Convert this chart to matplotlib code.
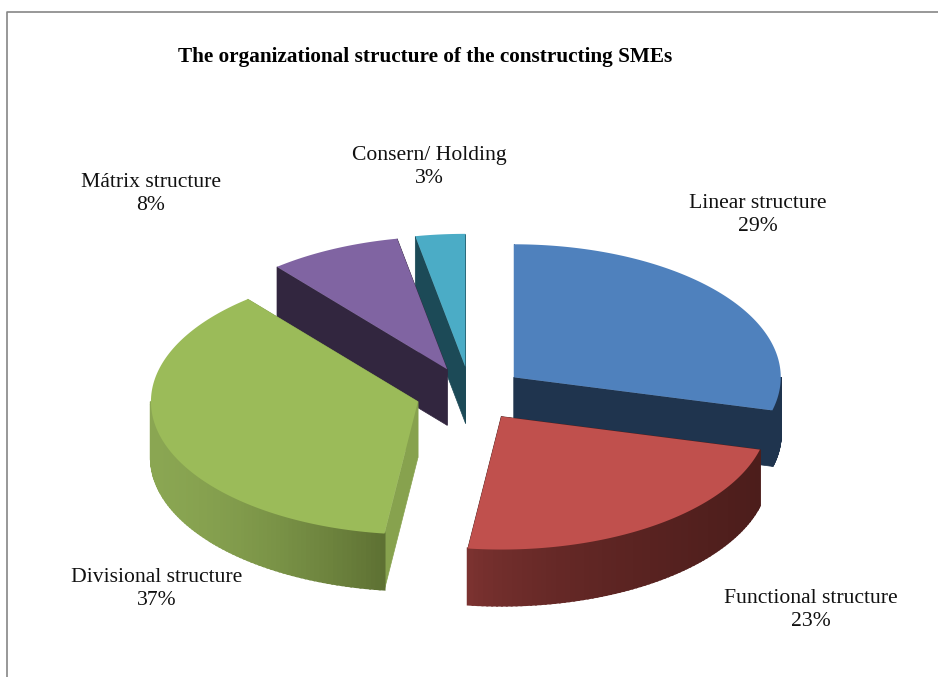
import numpy as np
import matplotlib
matplotlib.use('Agg')
import matplotlib.pyplot as plt
from matplotlib.colors import to_rgb

plt.rcParams['font.family'] = ['Liberation Serif', 'DejaVu Serif']

# Data
labels = ['Linear structure', 'Functional structure', 'Divisional structure', 'Mátrix structure', 'Consern/ Holding']
values = [29, 23, 37, 8, 3]
title = 'The organizational structure of the constructing SMEs'

# Look of each slice, same order as the data
top_colors = ['#4f81bd', '#c0504d', '#9bbb59', '#8064a2', '#4bacc6']
cut_colors = ['#1f344e', '#4c1d1b', '#87a24e', '#32263f', '#1c4a57']
rim_left = ['#1f344e', '#7f3432', '#8aa652', '#32263f', '#1c4a57']
rim_right = ['#1f344e', '#4c1d1b', '#5e7133', '#32263f', '#1c4a57']
rim_gamma = [1, 0.6, 1.6, 1, 1]
label_x = [758, 811, 157, 151, 429]
label_y = [215, 610, 589, 194, 167]

# Pie geometry in pixels
cx, cy = 470.5, 394
rx, ry = 267, 133
depth = 56
explode = 0.205
draw_order = [4, 3, 0, 2, 1]


def point(angle, ox, oy, r=1.0):
    # angle is clockwise from north, in degrees
    a = np.radians(angle)
    return ox + r * rx * np.sin(a), oy - r * ry * np.cos(a)


fig = plt.figure(figsize=(9.38, 6.77), dpi=100)
ax = fig.add_axes([0, 0, 1, 1])
ax.set_xlim(0, 938)
ax.set_ylim(677, 0)
ax.axis('off')

# Chart frame, runs off the picture on the right and at the bottom
ax.plot([6.5, 6.5, 938], [677, 11.5, 11.5], color='#868686', lw=1.2)

edges = np.cumsum([0] + values) * 3.6

for i in draw_order:
    start, end = edges[i], edges[i + 1]
    mid = (start + end) / 2
    ox, oy = point(mid, cx, cy, explode)
    arc = np.linspace(start, end, 120)
    ax_x, ax_y = point(arc, ox, oy)
    level = draw_order.index(i) * 3

    # Cut faces
    for edge in (start, end):
        ex, ey = point(edge, ox, oy)
        ax.fill([ox, ex, ex, ox], [oy, ey, ey + depth, oy + depth],
                color=cut_colors[i], lw=0.5, zorder=level + 1)

    # Outer wall, only the part facing the viewer, shaded in thin strips
    lo, hi = max(start, 90), min(end, 270)
    if lo < hi:
        steps = np.linspace(lo, hi, 80)
        left = np.array(to_rgb(rim_left[i]))
        right = np.array(to_rgb(rim_right[i]))
        xs, ys = point(steps, ox, oy)
        x_min, x_max = xs.min(), xs.max()
        for k in range(len(steps) - 1):
            t = ((xs[k] - x_min) / max(x_max - x_min, 1)) ** rim_gamma[i]
            c = left + (right - left) * t
            ax.fill([xs[k], xs[k + 1], xs[k + 1], xs[k]],
                    [ys[k], ys[k + 1], ys[k + 1] + depth, ys[k] + depth],
                    color=c, lw=1.5, zorder=level + 2)

    # Top face
    ax.fill(np.r_[ox, ax_x], np.r_[oy, ax_y], color=top_colors[i], lw=0,
            zorder=level + 3)

# Labels
for i in range(len(values)):
    ax.text(label_x[i], label_y[i], labels[i] + '\n' + str(values[i]) + '%',
            ha='center', va='center', fontsize=15.6, color='#111111',
            linespacing=1.25, zorder=30)

ax.text(178, 57, title, ha='left', va='center', fontsize=15.3, fontweight='bold',
        color='black', zorder=30)

fig.savefig('out.png', dpi=100)
